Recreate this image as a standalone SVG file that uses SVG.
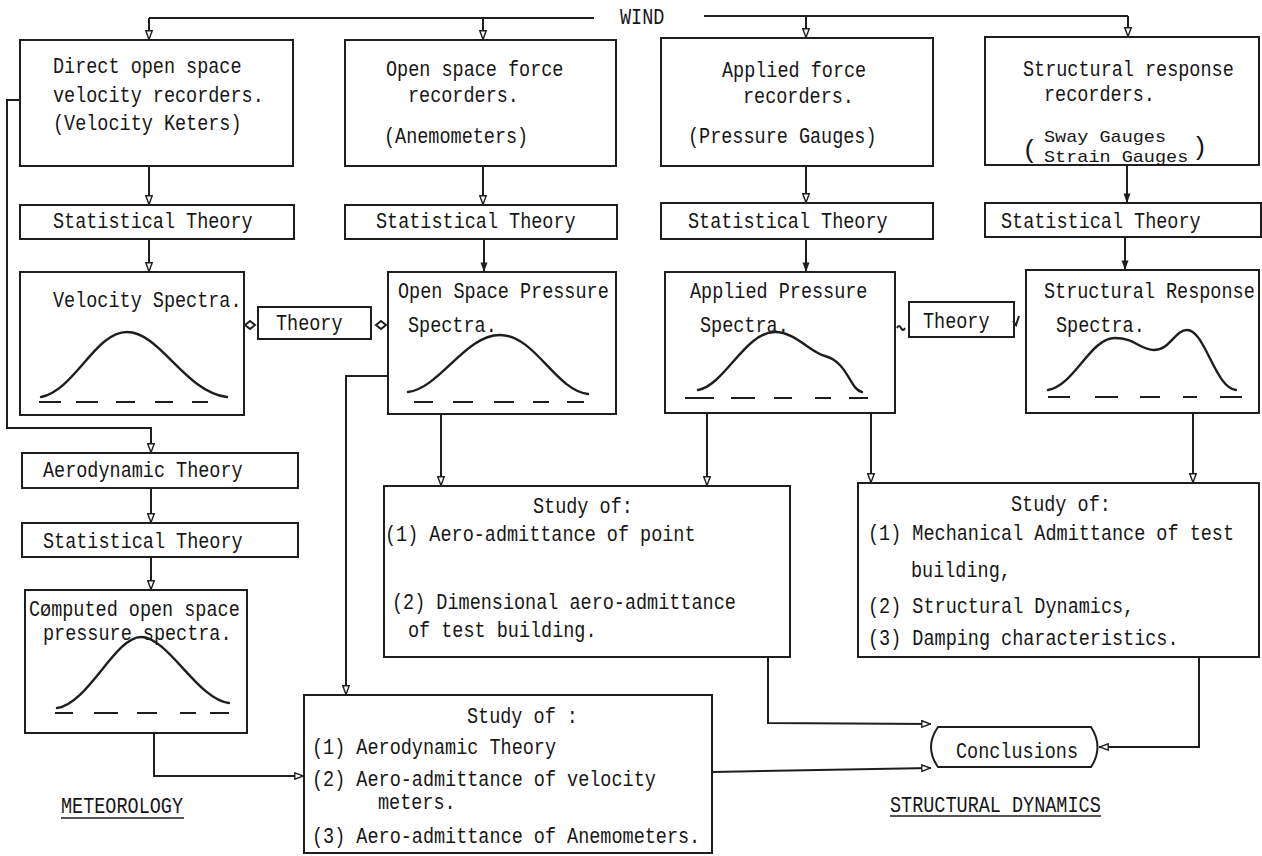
<svg xmlns="http://www.w3.org/2000/svg" width="1262" height="856" viewBox="0 0 1262 856">
<defs>
<style>
.b{fill:none;stroke:#1e1e1e;stroke-width:2}
.c{fill:none;stroke:#1e1e1e;stroke-width:2}
.cv{fill:none;stroke:#1e1e1e;stroke-width:2.4;stroke-linecap:round}
.d{fill:none;stroke:#1e1e1e;stroke-width:2}
text{font-family:"Liberation Mono","DejaVu Sans Mono",monospace;font-size:18.5px;fill:#161616}
.p{font-size:26px}
.u{stroke:#1e1e1e;stroke-width:1.6}
</style>
<marker id="ao" viewBox="0 0 10 8" refX="10" refY="4" markerWidth="10" markerHeight="8" markerUnits="userSpaceOnUse" orient="auto">
<path d="M0.8,0.8 L9.5,4 L0.8,7.2 Z" fill="#fff" stroke="#1e1e1e" stroke-width="1.4"/>
</marker>
<marker id="af" viewBox="0 0 10 8" refX="10" refY="4" markerWidth="10" markerHeight="8" markerUnits="userSpaceOnUse" orient="auto">
<path d="M0.5,0.5 L10,4 L0.5,7.5 Z" fill="#1e1e1e"/>
</marker>
</defs>
<rect width="1262" height="856" fill="#fff"/>

<g id="connectors">
<path class="c" d="M594,18 L149,18"/>
<path class="c" d="M149,18 L149,40" marker-end="url(#ao)"/>
<path class="c" d="M483,18 L483,40" marker-end="url(#ao)"/>
<path class="c" d="M704,16 L1128,16"/>
<path class="c" d="M806,16 L806,38" marker-end="url(#ao)"/>
<path class="c" d="M1128,16 L1128,37" marker-end="url(#ao)"/>
<path class="c" d="M149,166 L149,205" marker-end="url(#ao)"/>
<path class="c" d="M483,166 L483,205" marker-end="url(#ao)"/>
<path class="c" d="M806,166 L806,203" marker-end="url(#ao)"/>
<path class="c" d="M1127,165 L1127,203" marker-end="url(#af)"/>
<path class="c" d="M149,239 L149,272" marker-end="url(#ao)"/>
<path class="c" d="M484,239 L484,272" marker-end="url(#af)"/>
<path class="c" d="M806,239 L806,272" marker-end="url(#af)"/>
<path class="c" d="M1125,237 L1125,270" marker-end="url(#af)"/>
<path class="c" stroke-width="1.5" d="M245,325 l5,-4 l5,4 l-5,4 z"/>
<path class="c" stroke-width="1.5" d="M376,325 l5,-4 l5,4 l-5,4 z"/>
<path class="c" stroke-width="1.5" d="M897,328 q2,-4 4,0 t4,0"/>
<path class="c" stroke-width="1.5" d="M1013,321 l3,4 l3,-9"/>
<path class="c" d="M20,100 L7,100 L7,428 L151,428 L151,453" marker-end="url(#ao)"/>
<path class="c" d="M151,488 L151,523" marker-end="url(#ao)"/>
<path class="c" d="M151,557 L151,590" marker-end="url(#ao)"/>
<path class="c" d="M441,414 L441,486" marker-end="url(#ao)"/>
<path class="c" d="M707,413 L707,486" marker-end="url(#ao)"/>
<path class="c" d="M871,413 L871,483" marker-end="url(#ao)"/>
<path class="c" d="M1193,413 L1193,483" marker-end="url(#ao)"/>
<path class="c" d="M388,376 L346,376 L346,695" marker-end="url(#ao)"/>
<path class="c" d="M154,733 L154,776 L304,776" marker-end="url(#ao)"/>
<path class="c" d="M768,657 L768,723 L931,724" marker-end="url(#ao)"/>
<path class="c" d="M712,772 L931,768" marker-end="url(#ao)"/>
<path class="c" d="M1199,657 L1199,747 L1099,747" marker-end="url(#ao)"/>
</g>

<g id="wind"><text transform="translate(620,24) scale(1,1.16)">WIND</text></g>

<g id="velocity-recorders">
<rect class="b" x="20" y="40" width="273" height="126"/>
<text transform="translate(53,73) scale(1,1.16)">Direct open space</text>
<text transform="translate(53,102) scale(1,1.16)">velocity recorders.</text>
<text transform="translate(53,130) scale(1,1.16)">(Velocity Keters)</text>
</g>
<g id="force-recorders">
<rect class="b" x="345" y="40" width="271" height="126"/>
<text transform="translate(386,76) scale(1,1.16)">Open space force</text>
<text transform="translate(408,102) scale(1,1.16)">recorders.</text>
<text transform="translate(384,143) scale(1,1.16)">(Anemometers)</text>
</g>
<g id="applied-force-recorders">
<rect class="b" x="661" y="38" width="272" height="128"/>
<text transform="translate(722,77) scale(1,1.16)">Applied force</text>
<text transform="translate(743,103) scale(1,1.16)">recorders.</text>
<text transform="translate(688,143) scale(1,1.16)">(Pressure Gauges)</text>
</g>
<g id="response-recorders">
<rect class="b" x="985" y="37" width="274" height="128"/>
<text transform="translate(1023,76) scale(1,1.16)">Structural response</text>
<text transform="translate(1044,101) scale(1,1.16)">recorders.</text>
<text transform="translate(1044,142) scale(1,0.92)">Sway Gauges</text>
<text transform="translate(1044,162) scale(1,0.92)">Strain Gauges</text>
<text class="p" x="1022" y="158">(</text>
<text class="p" x="1192" y="155">)</text>
</g>

<g id="stat1"><rect class="b" x="20" y="205" width="274" height="34"/><text transform="translate(53,228) scale(1,1.16)">Statistical Theory</text></g>
<g id="stat2"><rect class="b" x="345" y="205" width="272" height="34"/><text transform="translate(376,228) scale(1,1.16)">Statistical Theory</text></g>
<g id="stat3"><rect class="b" x="661" y="203" width="272" height="36"/><text transform="translate(688,228) scale(1,1.16)">Statistical Theory</text></g>
<g id="stat4"><rect class="b" x="985" y="203" width="276" height="34"/><text transform="translate(1001,228) scale(1,1.16)">Statistical Theory</text></g>

<g id="velocity-spectra">
<rect class="b" x="20" y="272" width="224" height="143"/>
<text transform="translate(53,307) scale(1,1.16)">Velocity Spectra.</text>
<path class="cv" d="M41,397 C75,390 95,332 127,332 C160,332 185,392 227,397"/>
<path class="d" d="M39,402 H61 M76,402 H98 M116,402 H135 M155,402 H173 M192,402 H208"/>
</g>
<g id="theory1"><rect class="b" x="258" y="307" width="113" height="32"/><text transform="translate(276,330) scale(1,1.16)">Theory</text></g>
<g id="open-space-pressure-spectra">
<rect class="b" x="388" y="272" width="228" height="142"/>
<text transform="translate(398,298) scale(1,1.16)">Open Space Pressure</text>
<text transform="translate(408,332) scale(1,1.16)">Spectra.</text>
<path class="cv" d="M408,392 C440,388 465,335 500,335 C535,335 555,390 588,394"/>
<path class="d" d="M414,402 H433 M453,402 H473 M494,402 H514 M533,402 H549 M567,402 H584"/>
</g>
<g id="applied-pressure-spectra">
<rect class="b" x="665" y="272" width="230" height="141"/>
<text transform="translate(690,298) scale(1,1.16)">Applied Pressure</text>
<text transform="translate(700,332) scale(1,1.16)">Spectra.</text>
<path class="cv" d="M698,390 C725,385 745,332 775,332 C795,332 810,352 825,356 C848,362 850,390 862,392"/>
<path class="d" d="M685,398 H714 M731,398 H755 M774,398 H792 M815,398 H831 M849,398 H868"/>
</g>
<g id="theory2"><rect class="b" x="909" y="302" width="105" height="35"/><text transform="translate(923,328) scale(1,1.16)">Theory</text></g>
<g id="structural-response-spectra">
<rect class="b" x="1026" y="270" width="233" height="143"/>
<text transform="translate(1044,298) scale(1,1.16)">Structural Response</text>
<text transform="translate(1056,332) scale(1,1.16)">Spectra.</text>
<path class="cv" d="M1048,390 C1075,385 1090,338 1115,338 C1135,338 1140,350 1154,350 C1170,350 1175,330 1187,330 C1205,330 1215,388 1236,390"/>
<path class="d" d="M1048,397 H1070 M1095,397 H1118 M1140,397 H1160 M1183,397 H1197 M1220,397 H1242"/>
</g>

<g id="aerodynamic-theory"><rect class="b" x="22" y="453" width="276" height="35"/><text transform="translate(43,477) scale(1,1.16)">Aerodynamic Theory</text></g>
<g id="stat5"><rect class="b" x="22" y="523" width="276" height="34"/><text transform="translate(43,548) scale(1,1.16)">Statistical Theory</text></g>
<g id="computed-spectra">
<rect class="b" x="25" y="590" width="222" height="143"/>
<text transform="translate(29,616) scale(1,1.16)">Cømputed open space</text>
<text transform="translate(43,640) scale(1,1.16)">pressure spectra.</text>
<path class="cv" d="M57,708 C88,704 115,637 141,637 C168,637 198,700 229,703"/>
<path class="d" d="M55,713 H73 M94,713 H118 M137,713 H157 M180,713 H196 M210,713 H229"/>
</g>

<g id="study-aero">
<rect class="b" x="384" y="486" width="406" height="171"/>
<text transform="translate(533,513) scale(1,1.16)">Study of:</text>
<text transform="translate(385,541) scale(1,1.16)">(1) Aero-admittance of point</text>
<text transform="translate(392,609) scale(1,1.16)">(2) Dimensional aero-admittance</text>
<text transform="translate(408,637) scale(1,1.16)">of test building.</text>
</g>
<g id="study-mech">
<rect class="b" x="858" y="483" width="401" height="174"/>
<text transform="translate(1011,511) scale(1,1.16)">Study of:</text>
<text transform="translate(868,540) scale(1,1.16)">(1) Mechanical Admittance of test</text>
<text transform="translate(911,577) scale(1,1.16)">building,</text>
<text transform="translate(868,613) scale(1,1.16)">(2) Structural Dynamics,</text>
<text transform="translate(868,645) scale(1,1.16)">(3) Damping characteristics.</text>
</g>
<g id="study-bottom">
<rect class="b" x="304" y="695" width="408" height="158"/>
<text transform="translate(467,723) scale(1,1.16)">Study of :</text>
<text transform="translate(312,754) scale(1,1.16)">(1) Aerodynamic Theory</text>
<text transform="translate(312,786) scale(1,1.16)">(2) Aero-admittance of velocity</text>
<text transform="translate(378,809) scale(1,1.16)">meters.</text>
<text transform="translate(312,843) scale(1,1.16)">(3) Aero-admittance of Anemometers.</text>
</g>
<g id="conclusions">
<path class="b" d="M938,727 L1091,727 Q1104,747 1091,767 L938,767 Q924,747 938,727 Z"/>
<text transform="translate(956,758) scale(1,1.16)">Conclusions</text>
</g>
<g id="label-meteorology">
<text transform="translate(61,813) scale(1,1.16)">METEOROLOGY</text>
<line class="u" x1="61" y1="818" x2="184" y2="818"/>
</g>
<g id="label-structural-dynamics">
<text transform="translate(890,812) scale(1,1.16)">STRUCTURAL DYNAMICS</text>
<line class="u" x1="890" y1="816" x2="1101" y2="816"/>
</g>
</svg>
